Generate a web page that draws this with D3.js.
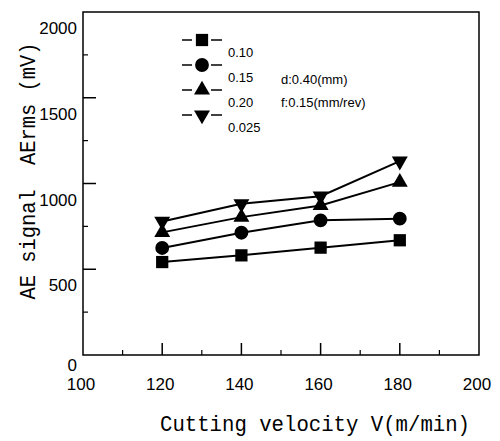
<!DOCTYPE html>
<html>
<head>
<meta charset="utf-8">
<script src="https://cdn.jsdelivr.net/npm/d3@7"></script>
<style>
  body { margin: 0; background: #fff; }
  svg { display: block; }
</style>
</head>
<body>
<div id="chart"></div>
<script>
// chart data
const velocity = [120, 140, 160, 180];
const seriesNames = ["0.10", "0.15", "0.20", "0.025"];
const seriesSymbols = ["square", "circle", "triangle", "triangleDown"];
const aeSquare = [542, 581, 626, 669];
const aeCircle = [624, 713, 785, 795];
const aeTriangle = [715, 804, 872, 1008];
const aeTriangleDown = [779, 882, 926, 1130];
const seriesValues = [aeSquare, aeCircle, aeTriangle, aeTriangleDown];
const xTicks = [100, 120, 140, 160, 180, 200];
const xMinor = [110, 130, 150, 170, 190];
const yTicks = [0, 500, 1000, 1500, 2000];
const yMinor = [250, 750, 1250, 1750];
const notes = ["d:0.40(mm)", "f:0.15(mm/rev)"];

const width = 500;
const height = 441;
const margin = { left: 83, right: 21, top: 12, bottom: 86 };

const svg = d3.select("#chart")
  .append("svg")
  .attr("width", width)
  .attr("height", height);

const x = d3.scaleLinear().domain([100, 200]).range([margin.left, width - margin.right]);
const y = d3.scaleLinear().domain([0, 2000]).range([height - margin.bottom, margin.top]);

const tickFont = "'Liberation Sans', Arial, sans-serif";
const titleFont = "'Liberation Mono', 'DejaVu Sans Mono', monospace";

// frame
svg.append("rect")
  .attr("x", x(100))
  .attr("y", y(2000))
  .attr("width", x(200) - x(100))
  .attr("height", y(0) - y(2000))
  .attr("fill", "none")
  .attr("stroke", "#000")
  .attr("stroke-width", 1.5);

// y ticks (inward), major and minor
svg.append("g").selectAll("line")
  .data(yTicks.filter(d => d > 0 && d < 2000))
  .join("line")
  .attr("x1", x(100)).attr("x2", x(100) + 13)
  .attr("y1", d => y(d)).attr("y2", d => y(d))
  .attr("stroke", "#000").attr("stroke-width", 1.5);

svg.append("g").selectAll("line")
  .data(yMinor)
  .join("line")
  .attr("x1", x(100)).attr("x2", x(100) + 5)
  .attr("y1", d => y(d)).attr("y2", d => y(d))
  .attr("stroke", "#000").attr("stroke-width", 1.2);

// y tick labels sit a little below their ticks, like the original
svg.append("g").selectAll("text")
  .data(yTicks)
  .join("text")
  .attr("x", x(100) - 6)
  .attr("y", d => y(d) + (d === 0 ? 16 : 22))
  .attr("text-anchor", "end")
  .style("font-family", tickFont)
  .style("font-size", "17px")
  .text(d => d);

// x ticks
svg.append("g").selectAll("line")
  .data(xTicks.filter(d => d > 100 && d < 200))
  .join("line")
  .attr("x1", d => x(d)).attr("x2", d => x(d))
  .attr("y1", y(0)).attr("y2", y(0) - 12)
  .attr("stroke", "#000").attr("stroke-width", 1.5);

svg.append("g").selectAll("line")
  .data(xMinor)
  .join("line")
  .attr("x1", d => x(d)).attr("x2", d => x(d))
  .attr("y1", y(0)).attr("y2", y(0) - 5)
  .attr("stroke", "#000").attr("stroke-width", 1.2);

svg.append("g").selectAll("text")
  .data(xTicks)
  .join("text")
  .attr("x", d => x(d) - 2)
  .attr("y", y(0) + 35)
  .attr("text-anchor", "middle")
  .style("font-family", tickFont)
  .style("font-size", "17px")
  .text(d => d);

// axis titles
svg.append("text")
  .attr("x", 315)
  .attr("y", 431)
  .attr("text-anchor", "middle")
  .attr("textLength", 310)
  .attr("lengthAdjust", "spacingAndGlyphs")
  .style("font-family", titleFont)
  .style("font-size", "22px")
  .text("Cutting velocity V(m/min)");

svg.append("text")
  .attr("transform", "translate(35,171) rotate(-90)")
  .attr("text-anchor", "middle")
  .attr("textLength", 257)
  .attr("lengthAdjust", "spacingAndGlyphs")
  .style("font-family", titleFont)
  .style("font-size", "22px")
  .style("white-space", "pre")
  .text("AE signal  AErms (mV)");

// markers
function markerPath(kind) {
  if (kind === "square") return d3.symbol(d3.symbolSquare, 150)();
  if (kind === "circle") return d3.symbol(d3.symbolCircle, 150)();
  return d3.symbol(d3.symbolTriangle, 110)();
}
function markerTransform(kind, px, py) {
  return kind === "triangleDown"
    ? `translate(${px},${py}) rotate(180)`
    : `translate(${px},${py})`;
}

const line = d3.line()
  .x((d, i) => x(velocity[i]))
  .y(d => y(d));

seriesValues.forEach((vals, s) => {
  svg.append("path")
    .datum(vals)
    .attr("d", line)
    .attr("fill", "none")
    .attr("stroke", "#000")
    .attr("stroke-width", 2);

  svg.append("g").selectAll("path")
    .data(vals)
    .join("path")
    .attr("d", markerPath(seriesSymbols[s]))
    .attr("transform", (d, i) => markerTransform(seriesSymbols[s], x(velocity[i]), y(d)))
    .attr("fill", "#000");
});

// legend
const legend = svg.append("g");
seriesNames.forEach((name, i) => {
  const ly = 40 + i * 25;
  legend.append("line")
    .attr("x1", 182).attr("x2", 192)
    .attr("y1", ly).attr("y2", ly)
    .attr("stroke", "#000").attr("stroke-width", 1.5);
  legend.append("line")
    .attr("x1", 211).attr("x2", 222)
    .attr("y1", ly).attr("y2", ly)
    .attr("stroke", "#000").attr("stroke-width", 1.5);
  legend.append("path")
    .attr("d", markerPath(seriesSymbols[i]))
    .attr("transform", markerTransform(seriesSymbols[i], 202, ly))
    .attr("fill", "#000");
  legend.append("text")
    .attr("x", 228)
    .attr("y", ly + 17)
    .style("font-family", tickFont)
    .style("font-size", "13px")
    .text(name);
});

notes.forEach((t, i) => {
  legend.append("text")
    .attr("x", 281)
    .attr("y", 84 + i * 23)
    .style("font-family", tickFont)
    .style("font-size", "13px")
    .text(t);
});
</script>
</body>
</html>
